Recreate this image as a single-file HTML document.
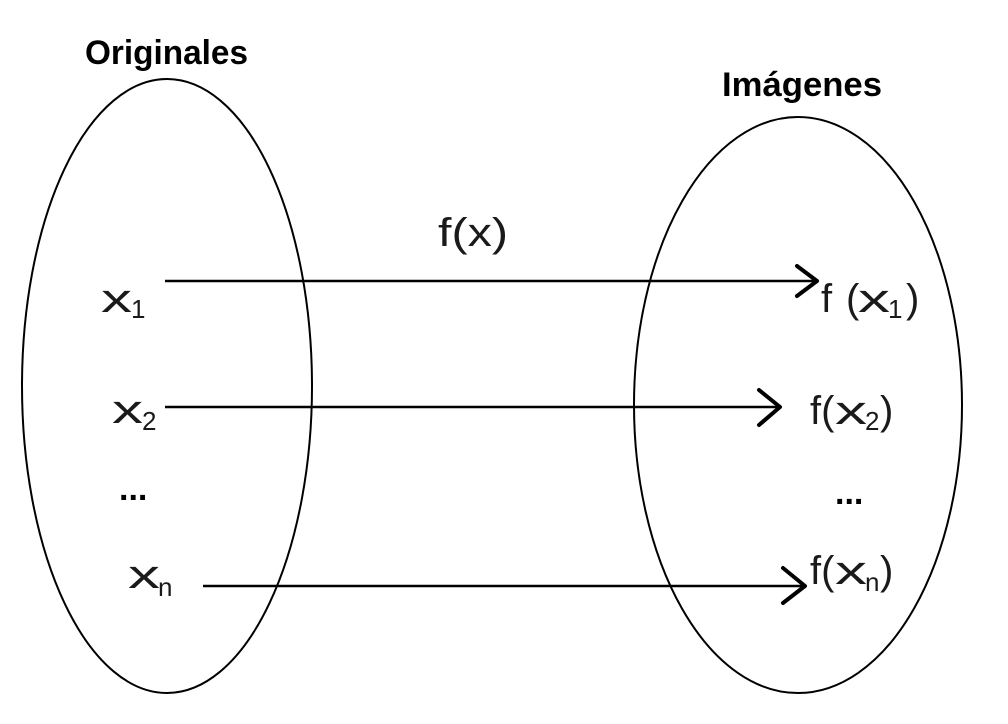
<!DOCTYPE html>
<html><head><meta charset="utf-8"><style>
html,body{margin:0;padding:0;background:#fff;}
svg{display:block}
text{font-family:"Liberation Sans",sans-serif;}
.t{font-size:40px;fill:#1a1a1a;}
.s{font-size:26px;fill:#1a1a1a;}
.b{font-size:34px;font-weight:bold;fill:#000;}
</style></head><body>
<svg width="1008" height="724" viewBox="0 0 1008 724" xmlns="http://www.w3.org/2000/svg">
<ellipse cx="167" cy="386" rx="145" ry="307" fill="none" stroke="#000" stroke-width="2"/>
<ellipse cx="798" cy="405" rx="164" ry="288" fill="none" stroke="#000" stroke-width="2"/>
<text class="b" x="85" y="64" textLength="163" lengthAdjust="spacingAndGlyphs">Originales</text>
<text class="b" x="722" y="96" textLength="160" lengthAdjust="spacingAndGlyphs">Imágenes</text>
<text class="t" x="438" y="246" textLength="70" lengthAdjust="spacingAndGlyphs">f(x)</text>
<g stroke="#000" fill="none">
<line x1="165" y1="281" x2="816" y2="281" stroke-width="2.5"/>
<polyline points="797,266 817,281 797,296" stroke-width="4" stroke-linecap="round" stroke-linejoin="round"/>
<line x1="165" y1="407" x2="778" y2="407" stroke-width="2.5"/>
<polyline points="759,390 780,407 759,425" stroke-width="4" stroke-linecap="round" stroke-linejoin="round"/>
<line x1="203" y1="586" x2="803" y2="586" stroke-width="2.5"/>
<polyline points="783,568 805,586 783,603" stroke-width="4" stroke-linecap="round" stroke-linejoin="round"/>
</g>
<text class="t" x="101" y="312" textLength="31" lengthAdjust="spacingAndGlyphs">x</text><text class="s" x="131" y="318">1</text>
<text class="t" x="112" y="423" textLength="31" lengthAdjust="spacingAndGlyphs">x</text><text class="s" x="142" y="430">2</text>
<text class="b" x="119" y="500">...</text>
<text class="t" x="128" y="588" textLength="32" lengthAdjust="spacingAndGlyphs">x</text><text class="s" x="158" y="596">n</text>
<text class="t" x="821" y="312">f</text>
<text class="t" x="846" y="312">(</text>
<text class="t" x="858" y="312" textLength="32" lengthAdjust="spacingAndGlyphs">x</text><text class="s" x="888" y="318">1</text>
<text class="t" x="906" y="312">)</text>
<text class="t" x="810" y="424">f(</text>
<text class="t" x="835" y="424" textLength="32" lengthAdjust="spacingAndGlyphs">x</text><text class="s" x="865" y="430">2</text>
<text class="t" x="880" y="424">)</text>
<text class="b" x="835" y="504">...</text>
<text class="t" x="810" y="584">f(</text>
<text class="t" x="835" y="584" textLength="32" lengthAdjust="spacingAndGlyphs">x</text><text class="s" x="865" y="591">n</text>
<text class="t" x="880" y="584">)</text>
</svg>
</body></html>
